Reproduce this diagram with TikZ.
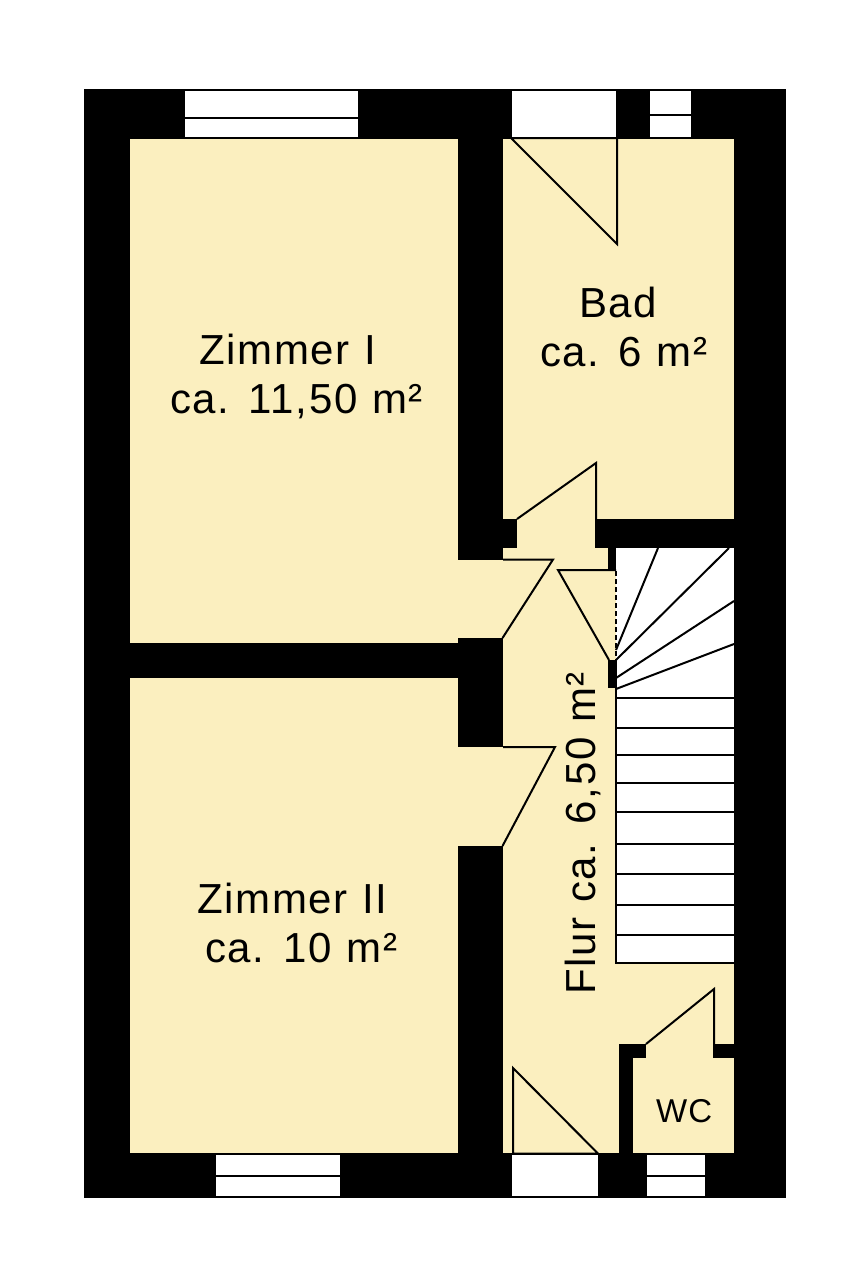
\documentclass[tikz,border=0pt]{standalone}
\usepackage{fontspec}
\setmainfont{Liberation Sans}
\newfontfamily\spaced[LetterSpace=4,WordSpace=1.1]{Liberation Sans}
\newfontfamily\wcfont[LetterSpace=3]{Liberation Sans}
\definecolor{roomfill}{HTML}{FBEFBF}
\tikzset{
  wall/.style={fill=black,draw=none},
  room/.style={fill=roomfill,draw=none},
  pane/.style={fill=white,draw=none},
  thin line/.style={draw=black,line width=2pt,line join=miter},
  tread/.style={draw=black,line width=2pt},
  label/.style={font=\spaced\fontsize{42}{49.5}\selectfont,align=left,inner sep=0pt,anchor=base west},
}
\begin{document}
\begin{tikzpicture}[x=1pt,y=-1pt]
\useasboundingbox (0,0) rectangle (860,1280);
\fill[white] (0,0) rectangle (860,1280);
% walls
\fill[wall] (84,89) rectangle (786,1197.5);
% rooms
\fill[room] (130,138.5) rectangle (458,643);
\fill[room] (130,678) rectangle (458,1153);
\fill[room] (458,560) rectangle (503,638);
\fill[room] (458,747) rectangle (503,846);
\fill[room] (503,138.5) rectangle (734,519);
\fill[room] (517,519) rectangle (595,548);
\fill[room] (503,548) rectangle (608,1153);
\fill[room] (608,570) rectangle (616,660);
\fill[room] (608,688) rectangle (619,1153);
\fill[room] (616,963) rectangle (734,1044);
% WC wall and room
\fill[wall] (619,1044) rectangle (646,1058);
\fill[wall] (619,1044) rectangle (633,1153);
\fill[wall] (713,1044) rectangle (734,1058);
\fill[room] (646,1044) rectangle (713,1058);
\fill[room] (633,1058) rectangle (734,1153);
% stairs
\fill[pane] (616,548) rectangle (734,963);
\draw[thin line] (616,660) -- (616,963) -- (734,963);
\foreach \y in {698,728,755,783,812,844,874,905,935}
  \draw[tread] (616,\y) -- (734,\y);
\draw[tread] (616,650) -- (658,548);
\draw[tread] (616,660) -- (729,548);
\draw[tread] (616,678) -- (734,601);
\draw[tread] (616,689) -- (734,644);
% windows
\fill[pane] (185,91) rectangle (358,137);
\draw[tread] (185,118) -- (358,118);
\fill[pane] (512,91) rectangle (616,137);
\fill[pane] (650,91) rectangle (691,137);
\draw[tread] (650,114.5) -- (691,114.5);
\fill[pane] (216,1155) rectangle (340,1196);
\draw[tread] (216,1175.5) -- (340,1175.5);
\fill[pane] (512,1155) rectangle (598,1196);
\fill[pane] (647,1155) rectangle (705,1196);
\draw[tread] (647,1176) -- (705,1176);
% door swings
\draw[thin line] (511,138) -- (617,244) -- (617,138) -- cycle;
\draw[thin line] (517,519) -- (596,463) -- (596,519);
\draw[thin line] (503,559.5) -- (553,559.5) -- (502.5,638);
\draw[thin line] (616,570) -- (558,570) -- (609,660);
\fill[wall] (608,548) rectangle (616,569);
\fill[wall] (608,660) rectangle (616,688);
\draw[black,line width=2pt,dash pattern=on 5pt off 3pt] (616,571) -- (616,660);
\draw[thin line] (503,747) -- (555,747) -- (502.5,846);
\draw[thin line] (646,1044) -- (714,989) -- (714,1044);
\draw[thin line] (513,1153.5) -- (513,1068) -- (598,1153.5) -- cycle;
% labels
\node[label] (zimmereins) at (170,413.5) {\hspace*{29pt}Zimmer I\\ca. 11,50 m²};
\node[label] (zimmerzwei) at (197,962.5) {Zimmer II\\\hspace*{8pt}ca. 10 m²};
\node[label] (bad) at (540,366.5) {\hspace*{39pt}Bad\\ca. 6 m²};
\node[label,rotate=90] (flur) at (595,995) {Flur ca. 6,50 m²};
\node[inner sep=0pt,anchor=base west,font=\wcfont\fontsize{33}{38}\selectfont] (wc) at (656,1122) {WC};
\end{tikzpicture}
\end{document}
